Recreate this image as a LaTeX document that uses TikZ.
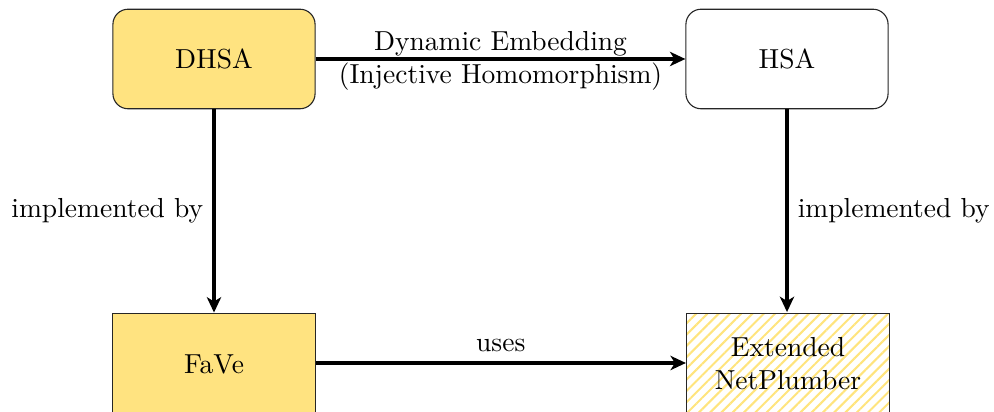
\documentclass[tikz,border=0pt]{standalone}
\usetikzlibrary{arrows.meta,patterns.meta}
\definecolor{boxyellow}{RGB}{255,227,128}
\definecolor{stripeyellow}{RGB}{255,228,125}
\begin{document}
\begin{tikzpicture}[x=0.3636pt,y=-0.3636pt,
  block/.style={draw=black!85,line width=0.4pt,minimum width=73.5pt,minimum height=36.2pt,
    align=center,inner sep=0pt},
  roundblock/.style={block,rounded corners=5.5pt},
  flow/.style={line width=1.2pt,-{Stealth[length=5.6pt,width=5.2pt,inset=1.6pt]}}]
  \useasboundingbox (0,0) rectangle (994,412);
  % abstract models
  \node[roundblock,fill=boxyellow] (dhsa) at (214,59) {DHSA};
  \node[roundblock,fill=white] (hsa) at (787,59) {HSA};
  % implementations
  \node[block,fill=boxyellow,minimum height=37pt] (fave) at (214,364) {FaVe};
  \node[block,minimum height=37pt,
    pattern={Lines[angle=45,distance=2.9pt,line width=0.75pt]},pattern color=stripeyellow]
    (np) at (788,364) {Extended\\NetPlumber};
  % relations
  \draw[flow] (dhsa) -- (hsa)
    node[midway,above,inner sep=0.6pt] {Dynamic Embedding}
    node[midway,below,inner sep=0.9pt] {(Injective Homomorphism)};
  \draw[flow] (dhsa) -- (fave) node[midway,left] {implemented by};
  \draw[flow] (hsa.south) -- (hsa.south |- np.north) node[midway,right] {implemented by};
  \draw[flow] (fave.east |- 0,363) -- (np.west |- 0,363) node[midway,above] {uses};
\end{tikzpicture}
\end{document}
